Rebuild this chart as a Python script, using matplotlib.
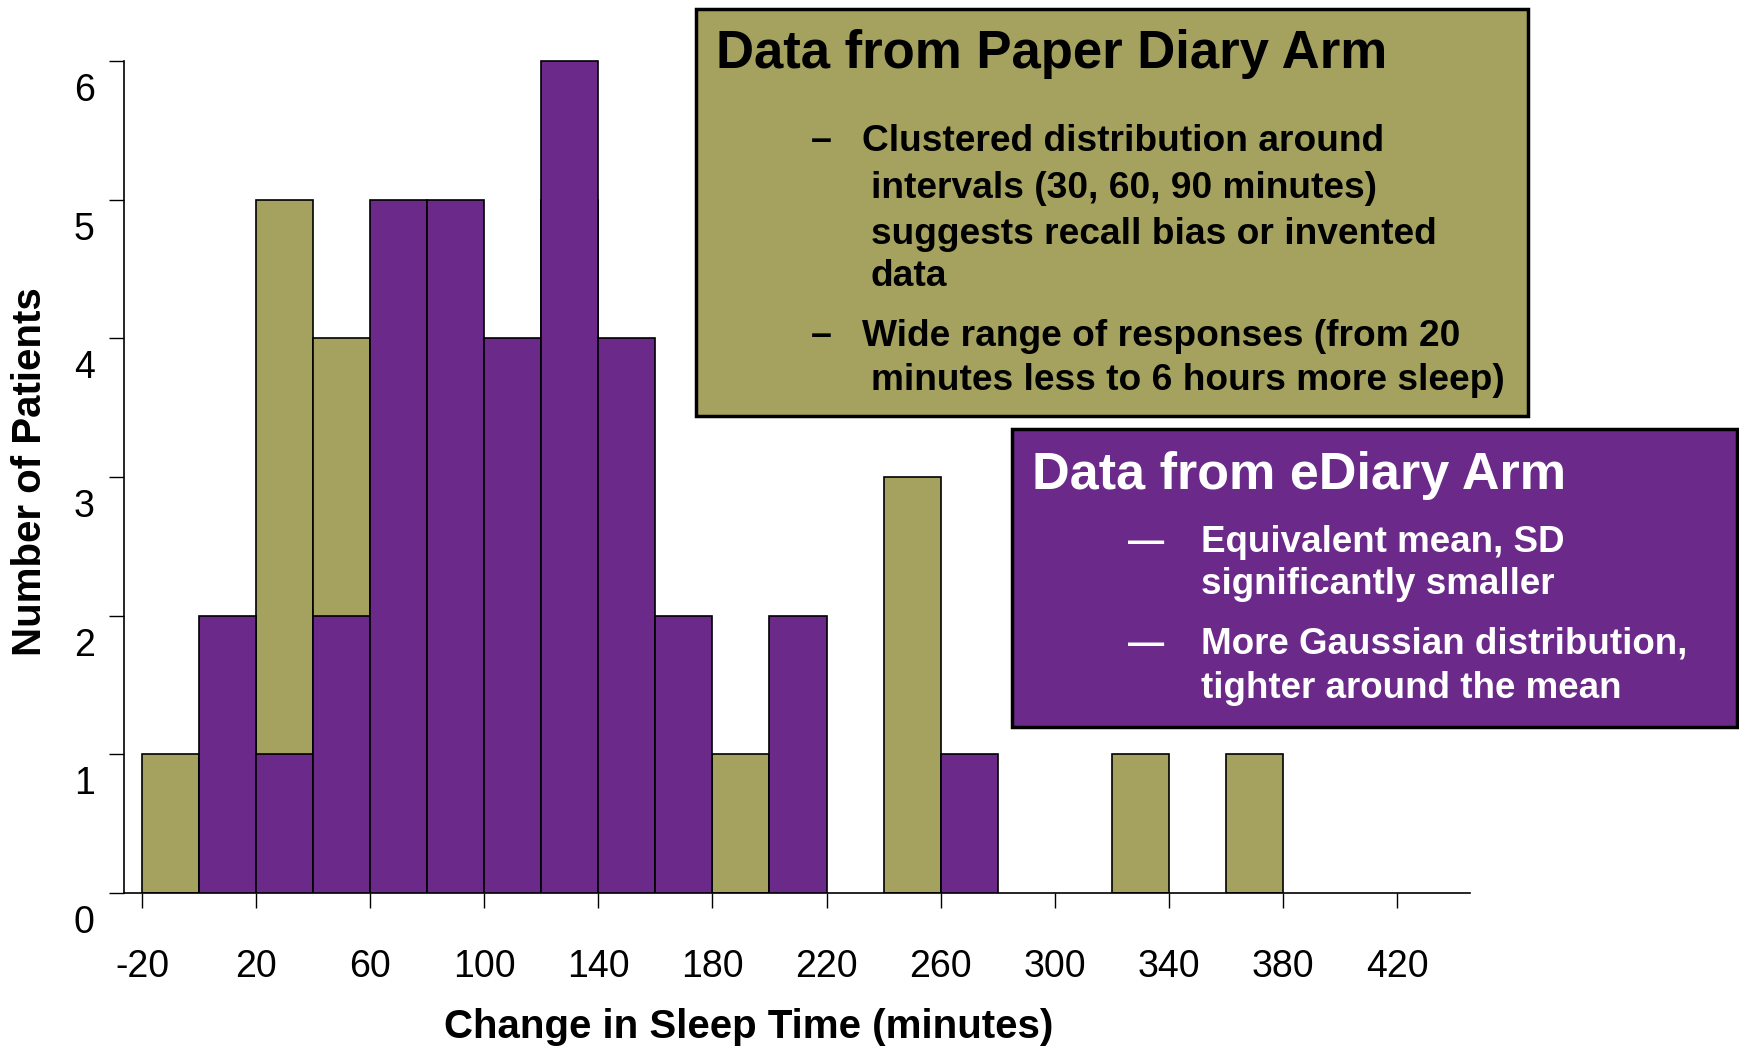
import matplotlib
matplotlib.use("Agg")
import matplotlib.pyplot as plt
from matplotlib.patches import Rectangle
from matplotlib.transforms import ScaledTranslation

plt.rcParams['font.family'] = ['Liberation Sans', 'DejaVu Sans']

# bins are 20 minutes wide, keyed by left edge
paper_bins = [-20, 0, 20, 40, 100, 120, 140, 180, 240, 320, 360]
paper_counts = [1, 1, 5, 4, 1, 5, 1, 1, 3, 1, 1]
ediary_bins = [0, 20, 40, 60, 80, 100, 120, 140, 160, 200, 260]
ediary_counts = [2, 1, 2, 5, 5, 4, 6, 4, 2, 2, 1]
bin_width = 20

x_ticks = list(range(-20, 421, 40))
y_ticks = [0, 1, 2, 3, 4, 5, 6]

paper_title = "Data from Paper Diary Arm"
paper_bullets = [
    ["Clustered distribution around", "intervals (30, 60, 90 minutes)",
     "suggests recall bias or invented", "data"],
    ["Wide range of responses (from 20", "minutes less to 6 hours more sleep)"],
]
ediary_title = "Data from eDiary Arm"
ediary_bullets = [
    ["Equivalent mean, SD", "significantly smaller"],
    ["More Gaussian distribution,", "tighter around the mean"],
]

olive = "#A4A25E"
purple = "#6B298A"

W, H = 1740, 1050
fig = plt.figure(figsize=(17.4, 10.5), dpi=100)

def fx(px):
    return px / W

def fy(py):
    return 1 - py / H

ax = fig.add_axes([fx(124), fy(893), fx(1470) - fx(124), fy(54) - fy(893)])

ax.bar(paper_bins, paper_counts, width=bin_width, align='edge',
       color=olive, edgecolor='black', linewidth=1.2, zorder=2)
ax.bar(ediary_bins, ediary_counts, width=bin_width, align='edge',
       color=purple, edgecolor='black', linewidth=1.2, zorder=3)

ax.set_xlim(-26.3, 445.6)
ax.set_ylim(0, 6.05)
ax.spines['top'].set_visible(False)
ax.spines['right'].set_visible(False)
ax.spines['left'].set_bounds(0, 6)
for s in ['left', 'bottom']:
    ax.spines[s].set_linewidth(1.2)

ax.set_xticks(x_ticks)
ax.set_xticklabels([str(t) for t in x_ticks])
ax.set_yticks(y_ticks)
ax.set_yticklabels([str(t) for t in y_ticks])
ax.tick_params(axis='x', length=11, width=1, pad=29, labelsize=27)
ax.tick_params(axis='y', length=11, width=1, pad=10, labelsize=27)

offset = ScaledTranslation(0, -0.26, fig.dpi_scale_trans)
for lab in ax.get_yticklabels():
    lab.set_transform(lab.get_transform() + offset)

fig.text(fx(30), fy(472), "Number of Patients", rotation=90, fontsize=29,
         fontweight='bold', ha='center', va='center')
fig.text(fx(749), fy(1027), "Change in Sleep Time (minutes)", fontsize=29,
         fontweight='bold', ha='center', va='center')

# paper diary box
fig.patches.append(Rectangle((fx(696), fy(416)), fx(1528) - fx(696), fy(9) - fy(416),
                             transform=fig.transFigure, facecolor=olive,
                             edgecolor='black', linewidth=2.5, zorder=5))
fig.text(fx(716), fy(54), paper_title, fontsize=38, fontweight='bold',
         ha='left', va='center', zorder=6)
paper_rows = [[141, 189, 234, 277], [336, 381]]
for lines, rows in zip(paper_bullets, paper_rows):
    fig.text(fx(821), fy(rows[0]), "\u2013", fontsize=27, fontweight='bold',
             ha='center', va='center', zorder=6)
    for i, (line, r) in enumerate(zip(lines, rows)):
        fig.text(fx(862 if i == 0 else 871), fy(r), line, fontsize=26.7,
                 fontweight='bold', ha='left', va='center', zorder=6)

# eDiary box
fig.patches.append(Rectangle((fx(1012), fy(727)), fx(1737) - fx(1012), fy(429) - fy(727),
                             transform=fig.transFigure, facecolor=purple,
                             edgecolor='black', linewidth=2.5, zorder=5))
fig.text(fx(1032), fy(476), ediary_title, fontsize=37.5, fontweight='bold',
         color='white', ha='left', va='center', zorder=6)
ediary_rows = [[542, 585], [644, 688]]
for lines, rows in zip(ediary_bullets, ediary_rows):
    fig.text(fx(1146), fy(rows[0]), "\u2014", fontsize=26, fontweight='bold',
             color='white', ha='center', va='center', zorder=6)
    for line, r in zip(lines, rows):
        fig.text(fx(1201), fy(r), line, fontsize=26.5, fontweight='bold',
                 color='white', ha='left', va='center', zorder=6)

fig.savefig("out.png", dpi=100)
